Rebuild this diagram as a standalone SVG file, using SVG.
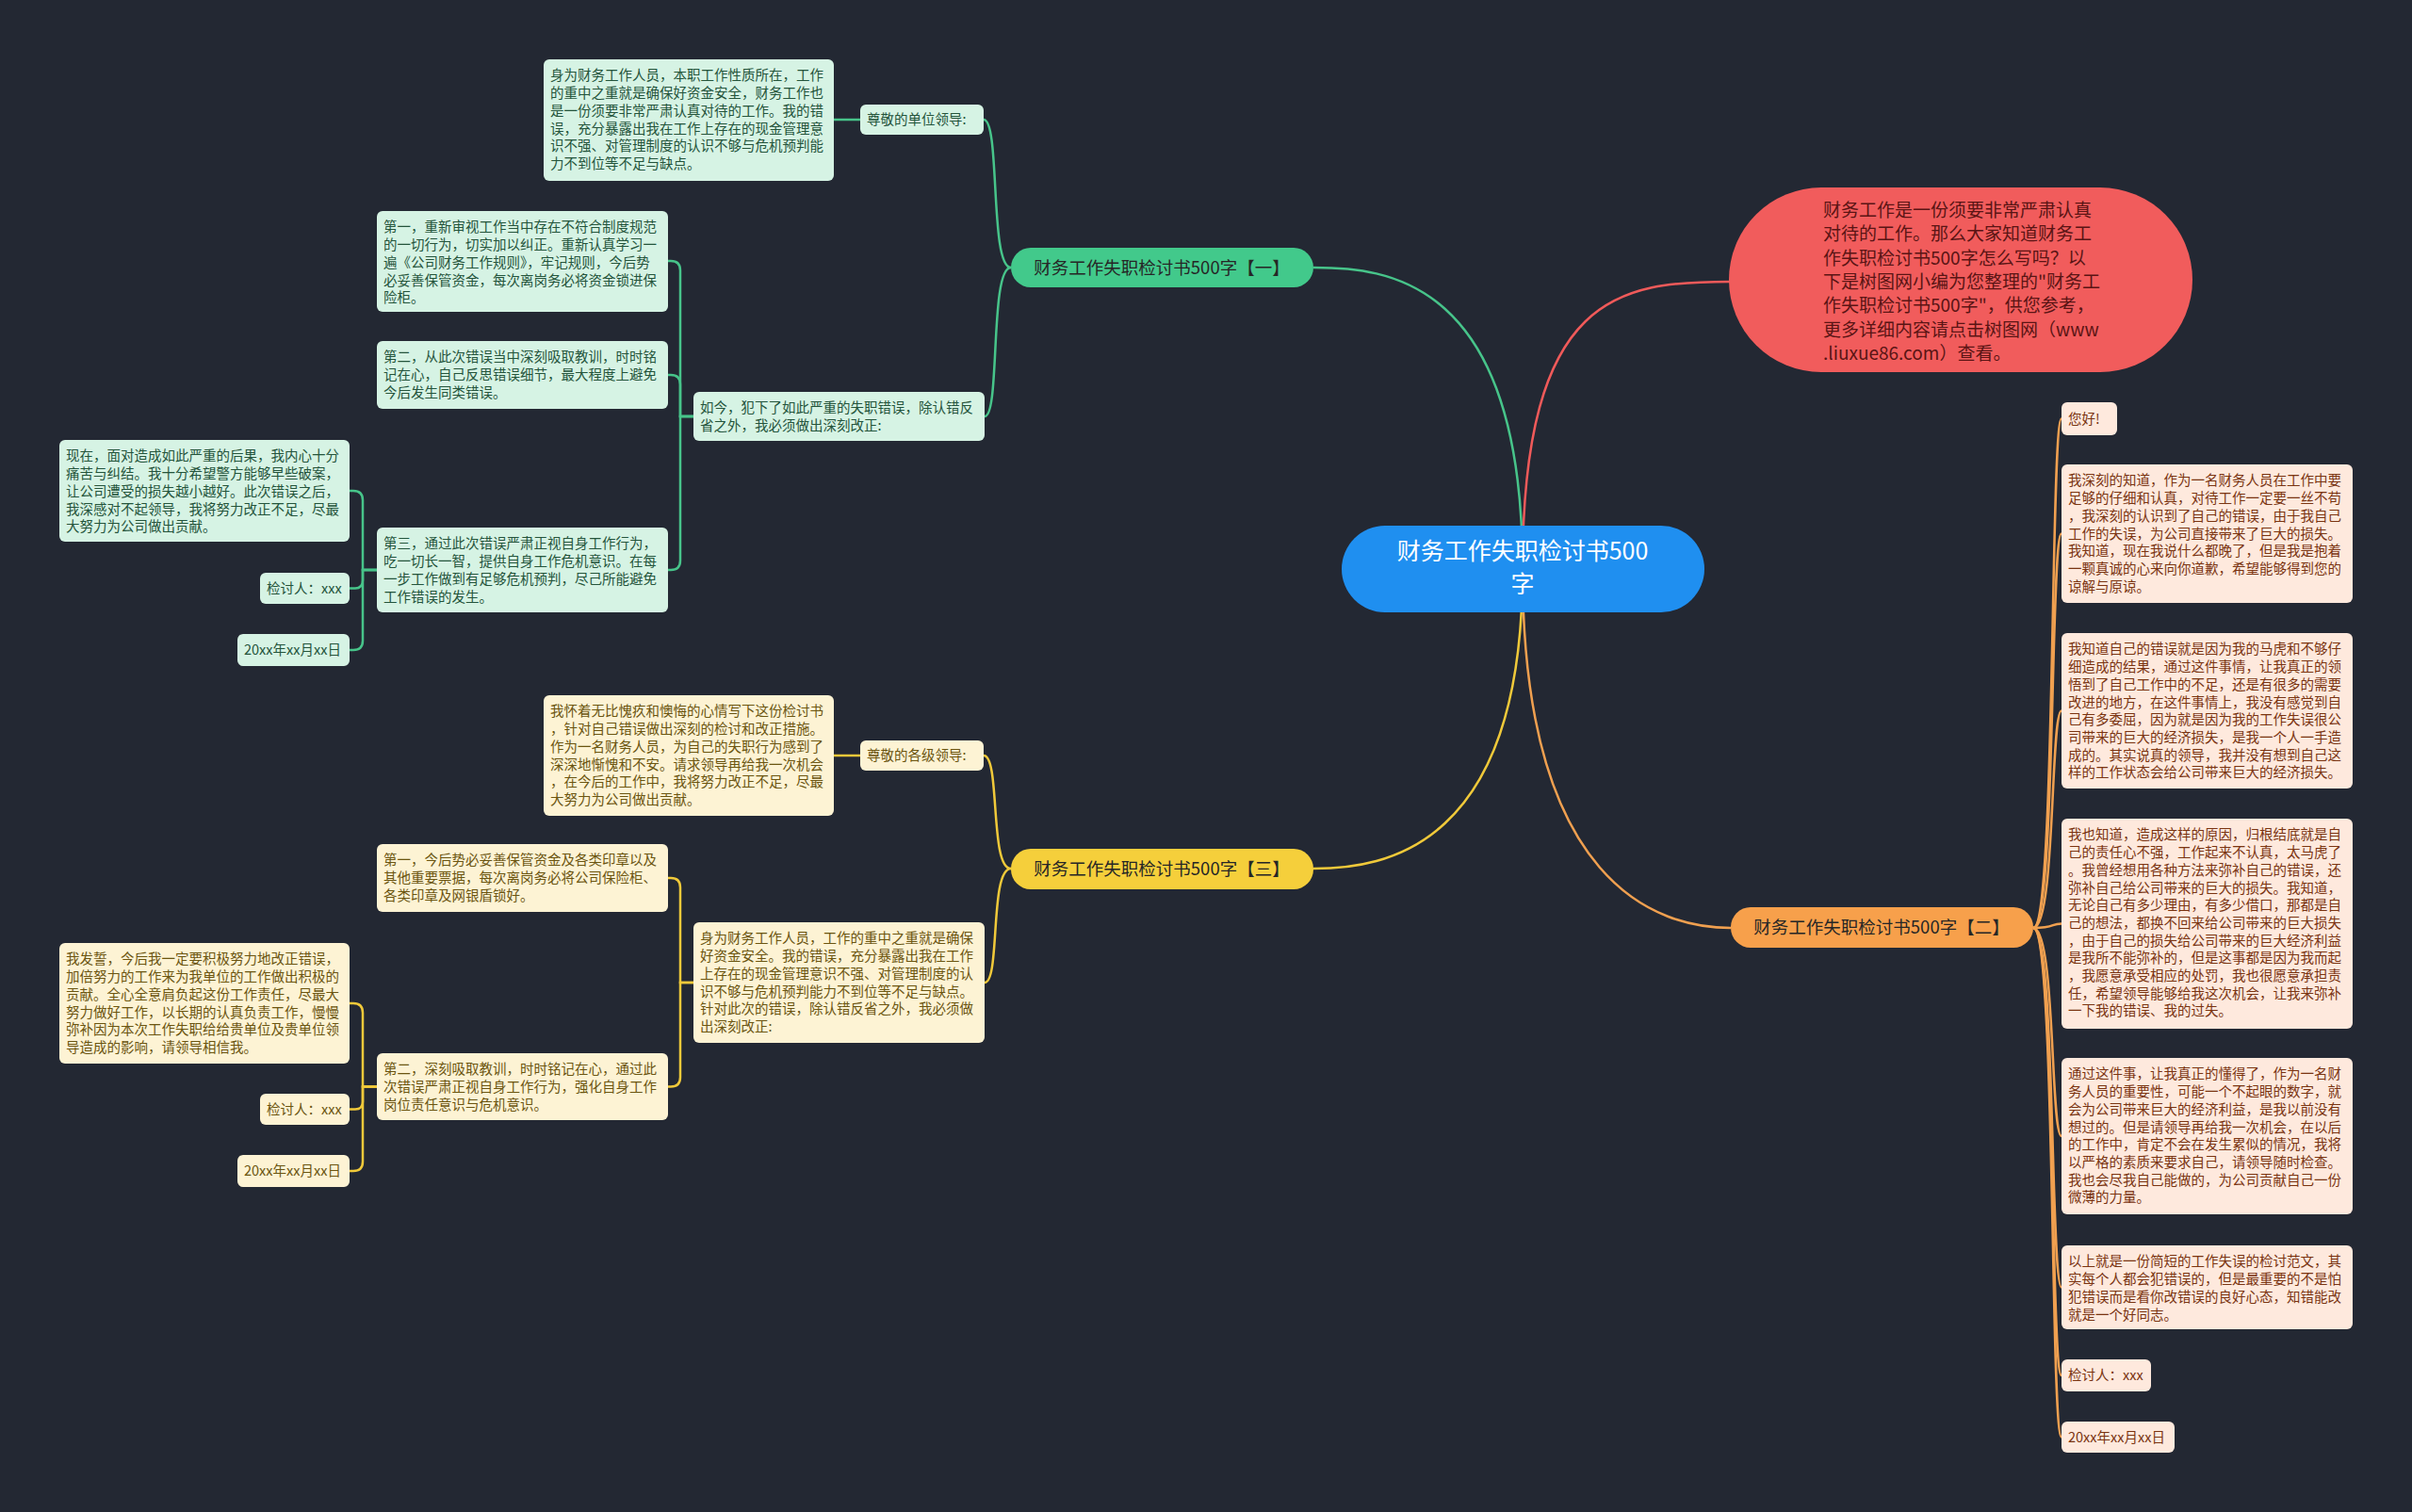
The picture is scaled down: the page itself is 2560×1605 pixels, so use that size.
<svg xmlns="http://www.w3.org/2000/svg" width="2560" height="1605" viewBox="0 0 2560 1605">
<style>
text{font-family:"Noto Sans CJK SC","Noto Sans",sans-serif;font-size:14.5px}
.gbox{fill:#d6f3e4}.gt{fill:#24543b}
.ybox{fill:#fdf3d4}.yt{fill:#6b5510}
.obox{fill:#fee9dd}.ot{fill:#7a3411}
.cg{fill:none;stroke:#47c48a;stroke-width:2.5}
.cy{fill:none;stroke:#f0c93a;stroke-width:2.5}
.co{fill:none;stroke:#f0a050;stroke-width:2.5}
.cr{fill:none;stroke:#f05a5a;stroke-width:2.5}
.br{font-size:18.5px;fill:#262626;text-anchor:middle}
</style>
<rect x="0" y="0" width="2560" height="1605" fill="#232833"/>
<g id="connectors">
<path class="cg" d="M1616,604 C1616,294 1470,284 1394,284"/>
<path class="cr" d="M1616,604 C1616,310 1720,299 1837,299"/>
<path class="cy" d="M1616,604 C1616,900 1470,922 1394,922"/>
<path class="co" d="M1616,604 C1616,940 1760,985 1837,985"/>
<path class="cg" d="M1073,284 C1050,284 1062,127 1044,127"/>
<path class="cg" d="M1073,284 C1050,284 1062,442 1045,442"/>
<path class="cg" d="M913,127 H885"/>
<path class="cg" d="M736,442 H722 V287 Q722,277 712,277 H709"/>
<path class="cg" d="M736,442 H722 V408 Q722,398 712,398 H709"/>
<path class="cg" d="M736,442 H722 V595 Q722,605 712,605 H709"/>
<path class="cg" d="M400,605 H385 V531 Q385,521 375,521 H371"/>
<path class="cg" d="M400,605 H385 V616 Q385,624.5 377,624.5 H371"/>
<path class="cg" d="M400,605 H385 V680 Q385,690 375,690 H371"/>
<path class="cy" d="M1073,922 C1050,922 1062,802 1044,802"/>
<path class="cy" d="M1073,922 C1050,922 1062,1043 1045,1043"/>
<path class="cy" d="M913,802 H885"/>
<path class="cy" d="M736,1043 H722 V942 Q722,932 712,932 H709"/>
<path class="cy" d="M736,1043 H722 V1143.5 Q722,1153.5 712,1153.5 H709"/>
<path class="cy" d="M400,1153.5 H385 V1075 Q385,1065 375,1065 H371"/>
<path class="cy" d="M400,1153.5 H385 V1169.5 Q385,1177.5 377,1177.5 H371"/>
<path class="cy" d="M400,1153.5 H385 V1233 Q385,1243 375,1243 H371"/>
<path class="co" d="M2158,985 C2182,985 2176,444.5 2188,444.5"/>
<path class="co" d="M2158,985 C2182,985 2176,566.5 2188,566.5"/>
<path class="co" d="M2158,985 C2182,985 2176,754.5 2188,754.5"/>
<path class="co" d="M2158,985 C2182,985 2176,980.5 2188,980.5"/>
<path class="co" d="M2158,985 C2182,985 2176,1206 2188,1206"/>
<path class="co" d="M2158,985 C2182,985 2176,1366.5 2188,1366.5"/>
<path class="co" d="M2158,985 C2182,985 2176,1460 2188,1460"/>
<path class="co" d="M2158,985 C2182,985 2176,1525.5 2188,1525.5"/>
</g>
<g id="root">
<rect x="1424" y="558" width="385" height="92" rx="46" fill="#1f8ff0"/>
<text x="1616" y="594" text-anchor="middle" fill="#ffffff" style="font-size:25px">财务工作失职检讨书500</text>
<text x="1616" y="629" text-anchor="middle" fill="#ffffff" style="font-size:25px">字</text>
</g>
<g id="intro">
<rect x="1835" y="199" width="492" height="196" rx="98" fill="#f15c5c"/>
<text fill="#5a1414" style="font-size:19px">
<tspan x="1935" y="230">财务工作是一份须要非常严肃认真</tspan>
<tspan x="1935" y="255.3">对待的工作。那么大家知道财务工</tspan>
<tspan x="1935" y="280.6">作失职检讨书500字怎么写吗？以</tspan>
<tspan x="1935" y="305.9">下是树图网小编为您整理的"财务工</tspan>
<tspan x="1935" y="331.2">作失职检讨书500字"，供您参考，</tspan>
<tspan x="1935" y="356.5">更多详细内容请点击树图网（www</tspan>
<tspan x="1935" y="381.8">.liuxue86.com）查看。</tspan>
</text>
</g>
<g id="branch1">
<rect x="1073" y="263" width="321" height="42" rx="21" fill="#42c98b"/>
<text class="br" x="1233" y="290.5">财务工作失职检讨书500字【一】</text>
</g>
<g id="branch3">
<rect x="1073" y="901" width="321" height="43" rx="21" fill="#f5cf3b"/>
<text class="br" x="1233" y="929">财务工作失职检讨书500字【三】</text>
</g>
<g id="branch2">
<rect x="1837" y="963" width="321" height="43" rx="21" fill="#f7a04b"/>
<text class="br" x="1997" y="991">财务工作失职检讨书500字【二】</text>
</g>
<g id="g-leader">
<rect class="gbox" x="913" y="111" width="131" height="32" rx="6"/>
<text class="gt" x="920" y="132">尊敬的单位领导:</text>
</g>
<g id="g-t1">
<rect class="gbox" x="577" y="63" width="308" height="129" rx="6"/>
<text class="gt">
<tspan x="584" y="85.4">身为财务工作人员，本职工作性质所在，工作</tspan>
<tspan x="584" y="104.1">的重中之重就是确保好资金安全，财务工作也</tspan>
<tspan x="584" y="122.8">是一份须要非常严肃认真对待的工作。我的错</tspan>
<tspan x="584" y="141.5">误，充分暴露出我在工作上存在的现金管理意</tspan>
<tspan x="584" y="160.2">识不强、对管理制度的认识不够与危机预判能</tspan>
<tspan x="584" y="178.9">力不到位等不足与缺点。</tspan>
</text>
</g>
<g id="g-now">
<rect class="gbox" x="736" y="416" width="309" height="52" rx="6"/>
<text class="gt">
<tspan x="743" y="438.4">如今，犯下了如此严重的失职错误，除认错反</tspan>
<tspan x="743" y="457.1">省之外，我必须做出深刻改正:</tspan>
</text>
</g>
<g id="g-first">
<rect class="gbox" x="400" y="224" width="309" height="107" rx="6"/>
<text class="gt">
<tspan x="407" y="246.4">第一，重新审视工作当中存在不符合制度规范</tspan>
<tspan x="407" y="265.1">的一切行为，切实加以纠正。重新认真学习一</tspan>
<tspan x="407" y="283.8">遍《公司财务工作规则》，牢记规则，今后势</tspan>
<tspan x="407" y="302.5">必妥善保管资金，每次离岗务必将资金锁进保</tspan>
<tspan x="407" y="321.2">险柜。</tspan>
</text>
</g>
<g id="g-second">
<rect class="gbox" x="400" y="362" width="309" height="72" rx="6"/>
<text class="gt">
<tspan x="407" y="384.4">第二，从此次错误当中深刻吸取教训，时时铭</tspan>
<tspan x="407" y="403.1">记在心，自己反思错误细节，最大程度上避免</tspan>
<tspan x="407" y="421.8">今后发生同类错误。</tspan>
</text>
</g>
<g id="g-third">
<rect class="gbox" x="400" y="560" width="309" height="90" rx="6"/>
<text class="gt">
<tspan x="407" y="582.4">第三，通过此次错误严肃正视自身工作行为，</tspan>
<tspan x="407" y="601.1">吃一切长一智，提供自身工作危机意识。在每</tspan>
<tspan x="407" y="619.8">一步工作做到有足够危机预判，尽己所能避免</tspan>
<tspan x="407" y="638.5">工作错误的发生。</tspan>
</text>
</g>
<g id="g-present">
<rect class="gbox" x="63" y="467" width="308" height="108" rx="6"/>
<text class="gt">
<tspan x="70" y="489.4">现在，面对造成如此严重的后果，我内心十分</tspan>
<tspan x="70" y="508.1">痛苦与纠结。我十分希望警方能够早些破案，</tspan>
<tspan x="70" y="526.8">让公司遭受的损失越小越好。此次错误之后，</tspan>
<tspan x="70" y="545.5">我深感对不起领导，我将努力改正不足，尽最</tspan>
<tspan x="70" y="564.2">大努力为公司做出贡献。</tspan>
</text>
</g>
<g id="g-signer">
<rect class="gbox" x="276" y="608" width="95" height="33" rx="6"/>
<text class="gt" x="283" y="629.5">检讨人：xxx</text>
</g>
<g id="g-date">
<rect class="gbox" x="252" y="673" width="119" height="34" rx="6"/>
<text class="gt" x="259" y="695">20xx年xx月xx日</text>
</g>
<g id="y-leader">
<rect class="ybox" x="913" y="786" width="131" height="32" rx="6"/>
<text class="yt" x="920" y="807">尊敬的各级领导:</text>
</g>
<g id="y-t3">
<rect class="ybox" x="577" y="738" width="308" height="128" rx="6"/>
<text class="yt">
<tspan x="584" y="760.4">我怀着无比愧疚和懊悔的心情写下这份检讨书</tspan>
<tspan x="584" y="779.1">，针对自己错误做出深刻的检讨和改正措施。</tspan>
<tspan x="584" y="797.8">作为一名财务人员，为自己的失职行为感到了</tspan>
<tspan x="584" y="816.5">深深地惭愧和不安。请求领导再给我一次机会</tspan>
<tspan x="584" y="835.2">，在今后的工作中，我将努力改正不足，尽最</tspan>
<tspan x="584" y="853.9">大努力为公司做出贡献。</tspan>
</text>
</g>
<g id="y-role">
<rect class="ybox" x="736" y="979" width="309" height="128" rx="6"/>
<text class="yt">
<tspan x="743" y="1001.4">身为财务工作人员，工作的重中之重就是确保</tspan>
<tspan x="743" y="1020.1">好资金安全。我的错误，充分暴露出我在工作</tspan>
<tspan x="743" y="1038.8">上存在的现金管理意识不强、对管理制度的认</tspan>
<tspan x="743" y="1057.5">识不够与危机预判能力不到位等不足与缺点。</tspan>
<tspan x="743" y="1076.2">针对此次的错误，除认错反省之外，我必须做</tspan>
<tspan x="743" y="1094.9">出深刻改正:</tspan>
</text>
</g>
<g id="y-first">
<rect class="ybox" x="400" y="896" width="309" height="72" rx="6"/>
<text class="yt">
<tspan x="407" y="918.4">第一，今后势必妥善保管资金及各类印章以及</tspan>
<tspan x="407" y="937.1">其他重要票据，每次离岗务必将公司保险柜、</tspan>
<tspan x="407" y="955.8">各类印章及网银盾锁好。</tspan>
</text>
</g>
<g id="y-second">
<rect class="ybox" x="400" y="1118" width="309" height="71" rx="6"/>
<text class="yt">
<tspan x="407" y="1140.4">第二，深刻吸取教训，时时铭记在心，通过此</tspan>
<tspan x="407" y="1159.1">次错误严肃正视自身工作行为，强化自身工作</tspan>
<tspan x="407" y="1177.8">岗位责任意识与危机意识。</tspan>
</text>
</g>
<g id="y-vow">
<rect class="ybox" x="63" y="1001" width="308" height="128" rx="6"/>
<text class="yt">
<tspan x="70" y="1023.4">我发誓，今后我一定要积极努力地改正错误，</tspan>
<tspan x="70" y="1042.1">加倍努力的工作来为我单位的工作做出积极的</tspan>
<tspan x="70" y="1060.8">贡献。全心全意肩负起这份工作责任，尽最大</tspan>
<tspan x="70" y="1079.5">努力做好工作，以长期的认真负责工作，慢慢</tspan>
<tspan x="70" y="1098.2">弥补因为本次工作失职给给贵单位及贵单位领</tspan>
<tspan x="70" y="1116.9">导造成的影响，请领导相信我。</tspan>
</text>
</g>
<g id="y-signer">
<rect class="ybox" x="276" y="1161" width="95" height="33" rx="6"/>
<text class="yt" x="283" y="1182.5">检讨人：xxx</text>
</g>
<g id="y-date">
<rect class="ybox" x="252" y="1226" width="119" height="34" rx="6"/>
<text class="yt" x="259" y="1248">20xx年xx月xx日</text>
</g>
<g id="o-hello">
<rect class="obox" x="2188" y="427" width="59" height="35" rx="6"/>
<text class="ot" x="2195" y="449.5">您好!</text>
</g>
<g id="o-p1">
<rect class="obox" x="2188" y="493" width="309" height="147" rx="6"/>
<text class="ot">
<tspan x="2195" y="515.4">我深刻的知道，作为一名财务人员在工作中要</tspan>
<tspan x="2195" y="534.1">足够的仔细和认真，对待工作一定要一丝不苟</tspan>
<tspan x="2195" y="552.8">，我深刻的认识到了自己的错误，由于我自己</tspan>
<tspan x="2195" y="571.5">工作的失误，为公司直接带来了巨大的损失。</tspan>
<tspan x="2195" y="590.2">我知道，现在我说什么都晚了，但是我是抱着</tspan>
<tspan x="2195" y="608.9">一颗真诚的心来向你道歉，希望能够得到您的</tspan>
<tspan x="2195" y="627.6">谅解与原谅。</tspan>
</text>
</g>
<g id="o-p2">
<rect class="obox" x="2188" y="672" width="309" height="165" rx="6"/>
<text class="ot">
<tspan x="2195" y="694.4">我知道自己的错误就是因为我的马虎和不够仔</tspan>
<tspan x="2195" y="713.1">细造成的结果，通过这件事情，让我真正的领</tspan>
<tspan x="2195" y="731.8">悟到了自己工作中的不足，还是有很多的需要</tspan>
<tspan x="2195" y="750.5">改进的地方，在这件事情上，我没有感觉到自</tspan>
<tspan x="2195" y="769.2">己有多委屈，因为就是因为我的工作失误很公</tspan>
<tspan x="2195" y="787.9">司带来的巨大的经济损失，是我一个人一手造</tspan>
<tspan x="2195" y="806.6">成的。其实说真的领导，我并没有想到自己这</tspan>
<tspan x="2195" y="825.3">样的工作状态会给公司带来巨大的经济损失。</tspan>
</text>
</g>
<g id="o-p3">
<rect class="obox" x="2188" y="869" width="309" height="223" rx="6"/>
<text class="ot">
<tspan x="2195" y="891.4">我也知道，造成这样的原因，归根结底就是自</tspan>
<tspan x="2195" y="910.1">己的责任心不强，工作起来不认真，太马虎了</tspan>
<tspan x="2195" y="928.8">。我曾经想用各种方法来弥补自己的错误，还</tspan>
<tspan x="2195" y="947.5">弥补自己给公司带来的巨大的损失。我知道，</tspan>
<tspan x="2195" y="966.2">无论自己有多少理由，有多少借口，那都是自</tspan>
<tspan x="2195" y="984.9">己的想法，都换不回来给公司带来的巨大损失</tspan>
<tspan x="2195" y="1003.6">，由于自己的损失给公司带来的巨大经济利益</tspan>
<tspan x="2195" y="1022.3">是我所不能弥补的，但是这事都是因为我而起</tspan>
<tspan x="2195" y="1041">，我愿意承受相应的处罚，我也很愿意承担责</tspan>
<tspan x="2195" y="1059.7">任，希望领导能够给我这次机会，让我来弥补</tspan>
<tspan x="2195" y="1078.4">一下我的错误、我的过失。</tspan>
</text>
</g>
<g id="o-p4">
<rect class="obox" x="2188" y="1123" width="309" height="166" rx="6"/>
<text class="ot">
<tspan x="2195" y="1145.4">通过这件事，让我真正的懂得了，作为一名财</tspan>
<tspan x="2195" y="1164.1">务人员的重要性，可能一个不起眼的数字，就</tspan>
<tspan x="2195" y="1182.8">会为公司带来巨大的经济利益，是我以前没有</tspan>
<tspan x="2195" y="1201.5">想过的。但是请领导再给我一次机会，在以后</tspan>
<tspan x="2195" y="1220.2">的工作中，肯定不会在发生累似的情况，我将</tspan>
<tspan x="2195" y="1238.9">以严格的素质来要求自己，请领导随时检查。</tspan>
<tspan x="2195" y="1257.6">我也会尽我自己能做的，为公司贡献自己一份</tspan>
<tspan x="2195" y="1276.3">微薄的力量。</tspan>
</text>
</g>
<g id="o-p5">
<rect class="obox" x="2188" y="1322" width="309" height="89" rx="6"/>
<text class="ot">
<tspan x="2195" y="1344.4">以上就是一份简短的工作失误的检讨范文，其</tspan>
<tspan x="2195" y="1363.1">实每个人都会犯错误的，但是最重要的不是怕</tspan>
<tspan x="2195" y="1381.8">犯错误而是看你改错误的良好心态，知错能改</tspan>
<tspan x="2195" y="1400.5">就是一个好同志。</tspan>
</text>
</g>
<g id="o-signer">
<rect class="obox" x="2188" y="1443" width="95" height="34" rx="6"/>
<text class="ot" x="2195" y="1465">检讨人：xxx</text>
</g>
<g id="o-date">
<rect class="obox" x="2188" y="1509" width="120" height="33" rx="6"/>
<text class="ot" x="2195" y="1530.5">20xx年xx月xx日</text>
</g>
</svg>
